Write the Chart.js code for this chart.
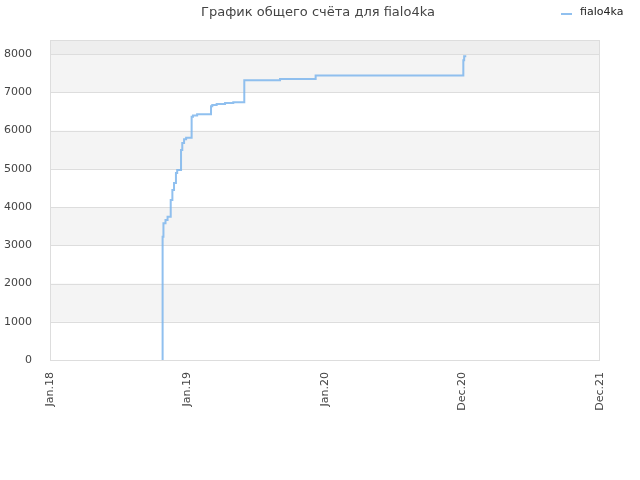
<!DOCTYPE html>
<html>
<head>
<meta charset="utf-8">
<script src="https://cdn.jsdelivr.net/npm/chart.js@4"></script>
<style>
  html,body{margin:0;padding:0;background:#fff;}
  #wrap{width:640px;height:480px;}
</style>
</head>
<body>
<div id="wrap"><canvas id="ch"></canvas></div>
<script>
// axis positions in "tick units" (0 = Jan.18 ... 4 = Dec.21)
const tickLabels = ['Jan.18','Jan.19','Jan.20','Dec.20','Dec.21'];
const yTicks = [0,1000,2000,3000,4000,5000,6000,7000,8000];
const xPos  = [0.819,0.819,0.825,0.840,0.855,0.878,0.890,0.902,0.916,0.925,0.953,0.962,0.975,0.990,1.030,1.040,1.070,1.171,1.180,1.212,1.273,1.333,1.413,1.673,1.932,3.006,3.012,3.020];
const score = [0,3224,3580,3660,3746,4183,4444,4627,4889,4967,5490,5673,5777,5812,6362,6397,6431,6640,6667,6693,6719,6745,7320,7350,7440,7843,7948,7974];
const seriesName = 'fialo4ka';
const titleText = 'График общего счёта для fialo4ka';

const FONT = 'DejaVu Sans';
const LINE_C = 'rgba(124,181,236,0.85)';

// bands + frame + header
const decor = {
  id:'decor',
  beforeDatasetsDraw(chart){
    const {ctx, chartArea:a, scales:{y}} = chart;
    ctx.save();
    const top = y.max;
    for(let v=0; v<top; v+=1000){
      const hi = Math.min(v+1000, top);
      let c = null;
      if(v>=8000) c = '#eeeeee';
      else if((v/1000)%2===1) c = '#f4f4f4';
      if(!c) continue;
      const y0 = y.getPixelForValue(hi), y1 = y.getPixelForValue(v);
      ctx.fillStyle = c;
      ctx.fillRect(a.left, y0, a.right-a.left, y1-y0);
    }
    ctx.strokeStyle = '#dddddd'; ctx.lineWidth = 1;
    yTicks.slice(1).forEach(v=>{
      const py = Math.round(y.getPixelForValue(v))+0.5;
      ctx.beginPath(); ctx.moveTo(a.left,py); ctx.lineTo(a.right,py); ctx.stroke();
    });
    ctx.strokeRect(a.left+0.5, a.top+0.5, a.right-a.left-1, a.bottom-a.top);
    ctx.restore();
  },
  afterDraw(chart){
    const {ctx} = chart;
    ctx.save();
    ctx.fillStyle = '#444';
    ctx.font = '13px "'+FONT+'"';
    ctx.textAlign = 'center'; ctx.textBaseline = 'middle';
    ctx.fillText(titleText, 318, 13);
    ctx.strokeStyle = LINE_C; ctx.lineWidth = 2;
    ctx.beginPath(); ctx.moveTo(561,14); ctx.lineTo(572,14); ctx.stroke();
    ctx.fillStyle = '#222';
    ctx.font = '11px "'+FONT+'"';
    ctx.textAlign = 'left';
    ctx.fillText(seriesName, 580, 12);
    ctx.restore();
  }
};

new Chart(document.getElementById('ch'), {
  type:'line',
  data:{
    datasets:[{
      label:seriesName,
      data:xPos.map((x,i)=>({x:x, y:score[i]})),
      borderColor:LINE_C,
      borderWidth:2,
      pointRadius:0,
      stepped:true,
      fill:false
    }]
  },
  options:{
    responsive:true, maintainAspectRatio:false, animation:false,
    layout:{padding:{top:40,right:40,left:0,bottom:0}},
    plugins:{legend:{display:false}, title:{display:false}, tooltip:{enabled:false}},
    scales:{
      x:{
        type:'linear', min:0, max:4,
        afterFit(s){ s.height = 120; },
        afterBuildTicks(s){ s.ticks = tickLabels.map((_,i)=>({value:i})); },
        ticks:{
          minRotation:90, maxRotation:90, padding:4,
          font:{family:FONT,size:11}, color:'#444',
          callback:(v)=>tickLabels[v]
        },
        grid:{display:false}, border:{display:false}
      },
      y:{
        min:0, max:8370,
        afterFit(s){ s.width = 50; },
        afterBuildTicks(s){ s.ticks = yTicks.map(v=>({value:v})); },
        ticks:{font:{family:FONT,size:11}, color:'#444', padding:10, callback:(v)=>String(v)},
        grid:{display:false}, border:{display:false}
      }
    }
  },
  plugins:[decor]
});
</script>
</body>
</html>
